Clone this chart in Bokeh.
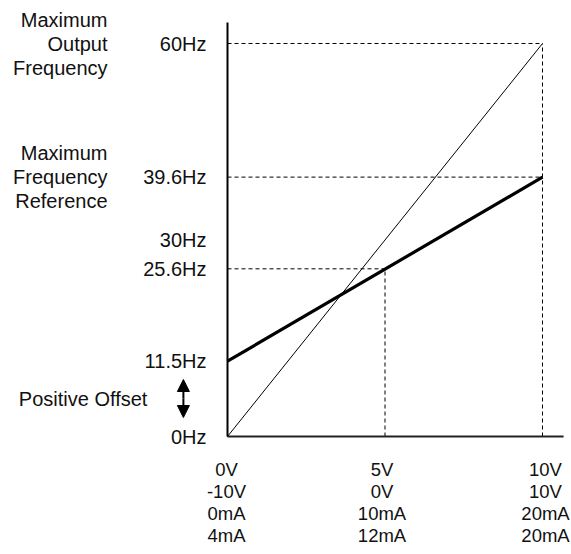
from bokeh.plotting import figure
from bokeh.models import Range1d, Arrow, NormalHead
from bokeh.core.properties import value
from bokeh.embed import file_html
from bokeh.resources import INLINE

# ---- data ----
x_ticks = [0, 5, 10]
x_row_v1 = ["0V", "5V", "10V"]
x_row_v2 = ["-10V", "0V", "10V"]
x_row_ma1 = ["0mA", "10mA", "20mA"]
x_row_ma2 = ["4mA", "12mA", "20mA"]

y_ticks = [60, 39.6, 30, 25.6, 11.5, 0]
y_labels = ["60Hz", "39.6Hz", "30Hz", "25.6Hz", "11.5Hz", "0Hz"]

max_output_freq = 60.0
max_freq_ref = 39.6
positive_offset = 11.5
mid_x = 5
mid_freq = 25.6
x_max = 10

output_line_x = [0, x_max]
output_line_y = [0, max_output_freq]
ref_line_x = [0, x_max]
ref_line_y = [positive_offset, max_freq_ref]

FONT = value("Liberation Sans")
FS = "20px"
FS_X = "18.5px"
TXT = "#111111"

W, H = 571, 554
# pixel layout (relative to canvas)
x0_px, x10_px = 227, 542
y0_px, y60_px = 436, 43
sx = (x10_px - x0_px) / 10.0
sy = (y0_px - y60_px) / 60.0

p = figure(width=W, height=H, output_backend="svg", toolbar_location=None,
           x_range=Range1d(-x0_px / sx, (W - x0_px) / sx),
           y_range=Range1d(-(H - y0_px) / sy, y0_px / sy),
           min_border=0, x_axis_location=None, y_axis_location=None)
p.grid.visible = False
p.outline_line_color = None
p.background_fill_color = "white"

# dashed guides
dash = "4 3"
p.segment(x0=[0, 0, 0], y0=[max_output_freq, max_freq_ref, mid_freq],
          x1=[x_max, x_max, mid_x], y1=[max_output_freq, max_freq_ref, mid_freq],
          line_color="black", line_width=1, line_dash=dash)
p.segment(x0=[x_max, mid_x], y0=[0, 0], x1=[x_max, mid_x], y1=[max_output_freq, mid_freq],
          line_color="black", line_width=1, line_dash=dash)

# axes lines
p.line([0, 0], [0, 63.2], line_color="black", line_width=2)
p.line([0, 10.67], [0, 0], line_color="#222222", line_width=2)

# characteristic lines
p.line(output_line_x, output_line_y, line_color="black", line_width=1)
p.line(ref_line_x, ref_line_y, line_color="black", line_width=3.2)

# y tick labels
p.text(x=[0] * len(y_ticks), y=y_ticks, text=y_labels, x_offset=-21,
       text_align="right", text_baseline="middle", text_font=FONT,
       text_font_size=FS, text_color=TXT)

# left annotations
left1 = ["Maximum", "Output", "Frequency"]
left2 = ["Maximum", "Frequency", "Reference"]
for lines, yv in ((left1, max_output_freq), (left2, max_freq_ref)):
    for i, t in enumerate(lines):
        p.text(x=[0], y=[yv], text=[t], x_offset=-120, y_offset=(i - 1) * 24,
               text_align="right", text_baseline="middle", text_font=FONT,
               text_font_size=FS, text_color=TXT)

# x tick label rows
for i, row in enumerate((x_row_v1, x_row_v2, x_row_ma1, x_row_ma2)):
    p.text(x=x_ticks, y=[0] * 3, text=row, y_offset=33 + 22 * i, x_offset=[-1, -3, 3],
           text_align="center", text_baseline="middle", text_font=FONT,
           text_font_size=FS_X, text_color=TXT)

# positive offset arrow
arrow_x = -1.4
arrow_y0, arrow_y1 = 2.9, 8.7
for yend in (arrow_y1, arrow_y0):
    p.add_layout(Arrow(x_start=arrow_x, y_start=(arrow_y0 + arrow_y1) / 2, x_end=arrow_x, y_end=yend,
                       line_width=2, end=NormalHead(size=12, fill_color="black", line_color="black")))
p.text(x=[arrow_x], y=[(arrow_y0 + arrow_y1) / 2], text=["Positive Offset"], x_offset=-36,
       text_align="right", text_baseline="middle", text_font=FONT,
       text_font_size=FS, text_color=TXT)

open("out.html", "w").write(file_html(p, INLINE))
